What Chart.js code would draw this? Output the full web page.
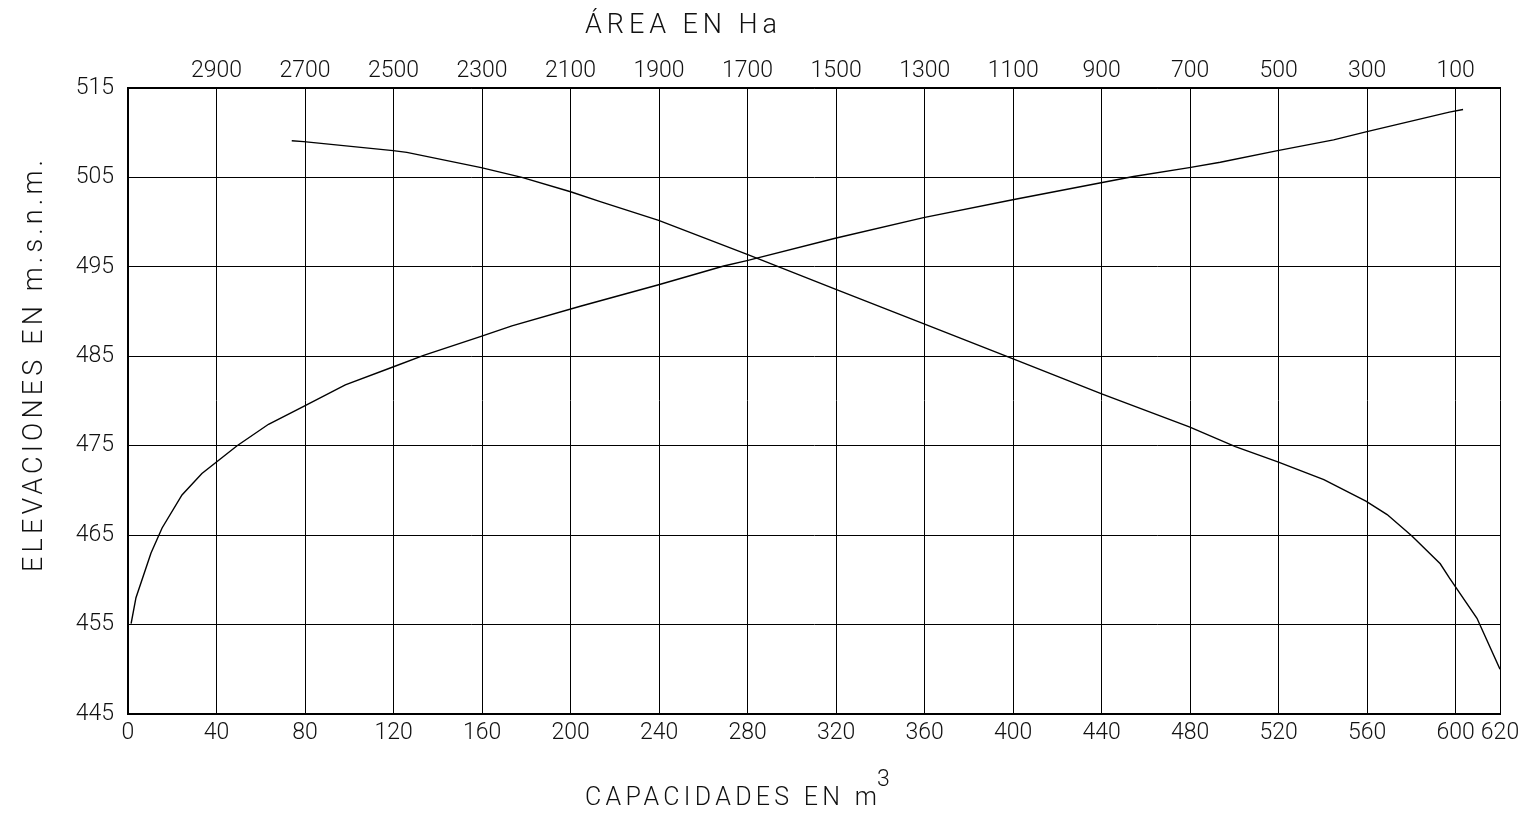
<!DOCTYPE html>
<html lang="es">
<head>
<meta charset="utf-8">
<title>Curvas elevación - capacidad - área</title>
<script src="https://cdn.jsdelivr.net/npm/chart.js@4.4.1/dist/chart.umd.min.js"></script>
<style>
    html, body { margin: 0; padding: 0; background: #fff; }
    #chart { display: block; }
</style>
</head>
<body>
<canvas id="chart" width="1522" height="816"></canvas>
<script>
// Curva elevación - capacidad (eje inferior)
const capElev = [455.1, 458.0, 463.0, 465.8, 469.5, 471.9, 475.0, 477.4, 479.4, 481.8, 483.8, 485.1, 487.2, 488.4, 490.6, 493.0, 495.1, 495.7, 498.2, 500.5, 502.5, 504.4, 505.1, 506.1, 506.7, 508.0, 509.2, 510.1, 512.3, 512.6];
const capValues = [1.4, 3.6, 10.4, 15.4, 24.4, 33.4, 49.3, 63.5, 79.4, 98.2, 119.7, 133.6, 159.2, 173.5, 204.4, 239.8, 269.2, 279.7, 319.6, 359.5, 399.8, 439.7, 454.4, 479.6, 493.6, 519.5, 544.8, 559.4, 597.1, 603.3];

// Curva elevación - área (eje superior, invertido)
const areaElev = [509.1, 509.0, 508.0, 507.8, 506.1, 505.0, 503.4, 502.3, 500.2, 496.4, 492.5, 488.6, 484.7, 480.8, 477.1, 474.9, 473.2, 471.2, 468.8, 467.3, 464.9, 461.8, 460.2, 455.7, 450.0];
const areaValues = [2730, 2703, 2501, 2470, 2302, 2210, 2100, 2033, 1901, 1701, 1502, 1300, 1100, 900, 702, 598, 502, 398, 303, 255, 199, 135, 114, 52, 0];

// Etiquetas de los ejes
const capTicks = [0, 40, 80, 120, 160, 200, 240, 280, 320, 360, 400, 440, 480, 520, 560, 600, 620];
const areaTicks = [2900, 2700, 2500, 2300, 2100, 1900, 1700, 1500, 1300, 1100, 900, 700, 500, 300, 100];
const elevTicks = [445, 455, 465, 475, 485, 495, 505, 515];

const FONT = 'Roboto, "DejaVu Sans", sans-serif';
const tickFont = { family: FONT, size: 23, weight: '300' };

// ticks fijos + sin relleno extra para que el área quede donde el dibujo
const fixTicks = (list) => (scale) => { scale.ticks = list.map(v => ({ value: v })); };
const noPad = (scale) => {
    scale.paddingLeft = 0; scale.paddingRight = 0;
    scale.paddingTop = 0; scale.paddingBottom = 0;
};
const plain = (v) => String(v);

// Títulos de los ejes, espaciados como en el plano
function spacedText(ctx, text, x, y, width) {
    ctx.letterSpacing = '0px';
    const w = ctx.measureText(text).width;
    const sp = (width - w) / (text.length - 1);
    ctx.letterSpacing = sp + 'px';
    ctx.fillText(text, x, y);
    ctx.letterSpacing = '0px';
}

const axisTitles = {
    id: 'axisTitles',
    afterDraw(chart) {
        const ctx = chart.ctx;
        ctx.save();
        ctx.fillStyle = '#111';
        ctx.textAlign = 'left';
        ctx.textBaseline = 'alphabetic';

        ctx.font = '300 27px ' + FONT;
        spacedText(ctx, 'ÁREA EN Ha', 585, 33, 192);

        ctx.font = '300 25px ' + FONT;
        spacedText(ctx, 'CAPACIDADES EN m', 585, 805, 292);
        ctx.font = '300 23px ' + FONT;
        ctx.fillText('3', 877, 786);

        ctx.translate(42, 572);
        ctx.rotate(-Math.PI / 2);
        ctx.font = '300 27px ' + FONT;
        spacedText(ctx, 'ELEVACIONES EN m.s.n.m.', 0, 0, 412);
        ctx.restore();
    }
};

new Chart(document.getElementById('chart'), {
    type: 'line',
    data: {
        datasets: [
            {
                label: 'Capacidad',
                data: capValues.map((c, i) => ({ x: c, y: capElev[i] })),
                xAxisID: 'x',
                yAxisID: 'y',
                borderColor: '#000',
                borderWidth: 1.4,
                pointRadius: 0,
                tension: 0,
                fill: false
            },
            {
                label: 'Área',
                data: areaValues.map((a, i) => ({ x: a, y: areaElev[i] })),
                xAxisID: 'x2',
                yAxisID: 'y',
                borderColor: '#000',
                borderWidth: 1.4,
                pointRadius: 0,
                tension: 0,
                fill: false
            }
        ]
    },
    options: {
        responsive: false,
        animation: false,
        layout: { padding: { left: 0, right: 22, top: 0, bottom: 0 } },
        plugins: {
            legend: { display: false },
            tooltip: { enabled: false }
        },
        scales: {
            x: {
                type: 'linear',
                position: 'bottom',
                min: 0,
                max: 620,
                afterBuildTicks: fixTicks(capTicks),
                afterFit: (s) => { s.height = 102; noPad(s); },
                grid: { color: '#000', lineWidth: 1, drawTicks: false },
                border: { color: '#000', width: 2 },
                ticks: { color: '#111', font: tickFont, padding: 5, maxRotation: 0, autoSkip: false, callback: plain }
            },
            x2: {
                type: 'linear',
                position: 'top',
                min: 0,
                max: 3100,
                reverse: true,
                afterBuildTicks: fixTicks(areaTicks),
                afterFit: (s) => { s.height = 88; noPad(s); },
                grid: { drawOnChartArea: false, drawTicks: false },
                border: { color: '#000', width: 1.5 },
                ticks: { color: '#111', font: tickFont, padding: 3, maxRotation: 0, autoSkip: false, callback: plain }
            },
            y: {
                type: 'linear',
                position: 'left',
                min: 445,
                max: 515,
                afterBuildTicks: fixTicks(elevTicks),
                afterFit: (s) => { s.width = 128; noPad(s); },
                grid: { color: '#000', lineWidth: 1, drawTicks: false },
                border: { color: '#000', width: 2 },
                ticks: { color: '#111', font: tickFont, padding: 14, autoSkip: false, callback: plain }
            }
        }
    },
    plugins: [axisTitles]
});
</script>
</body>
</html>
